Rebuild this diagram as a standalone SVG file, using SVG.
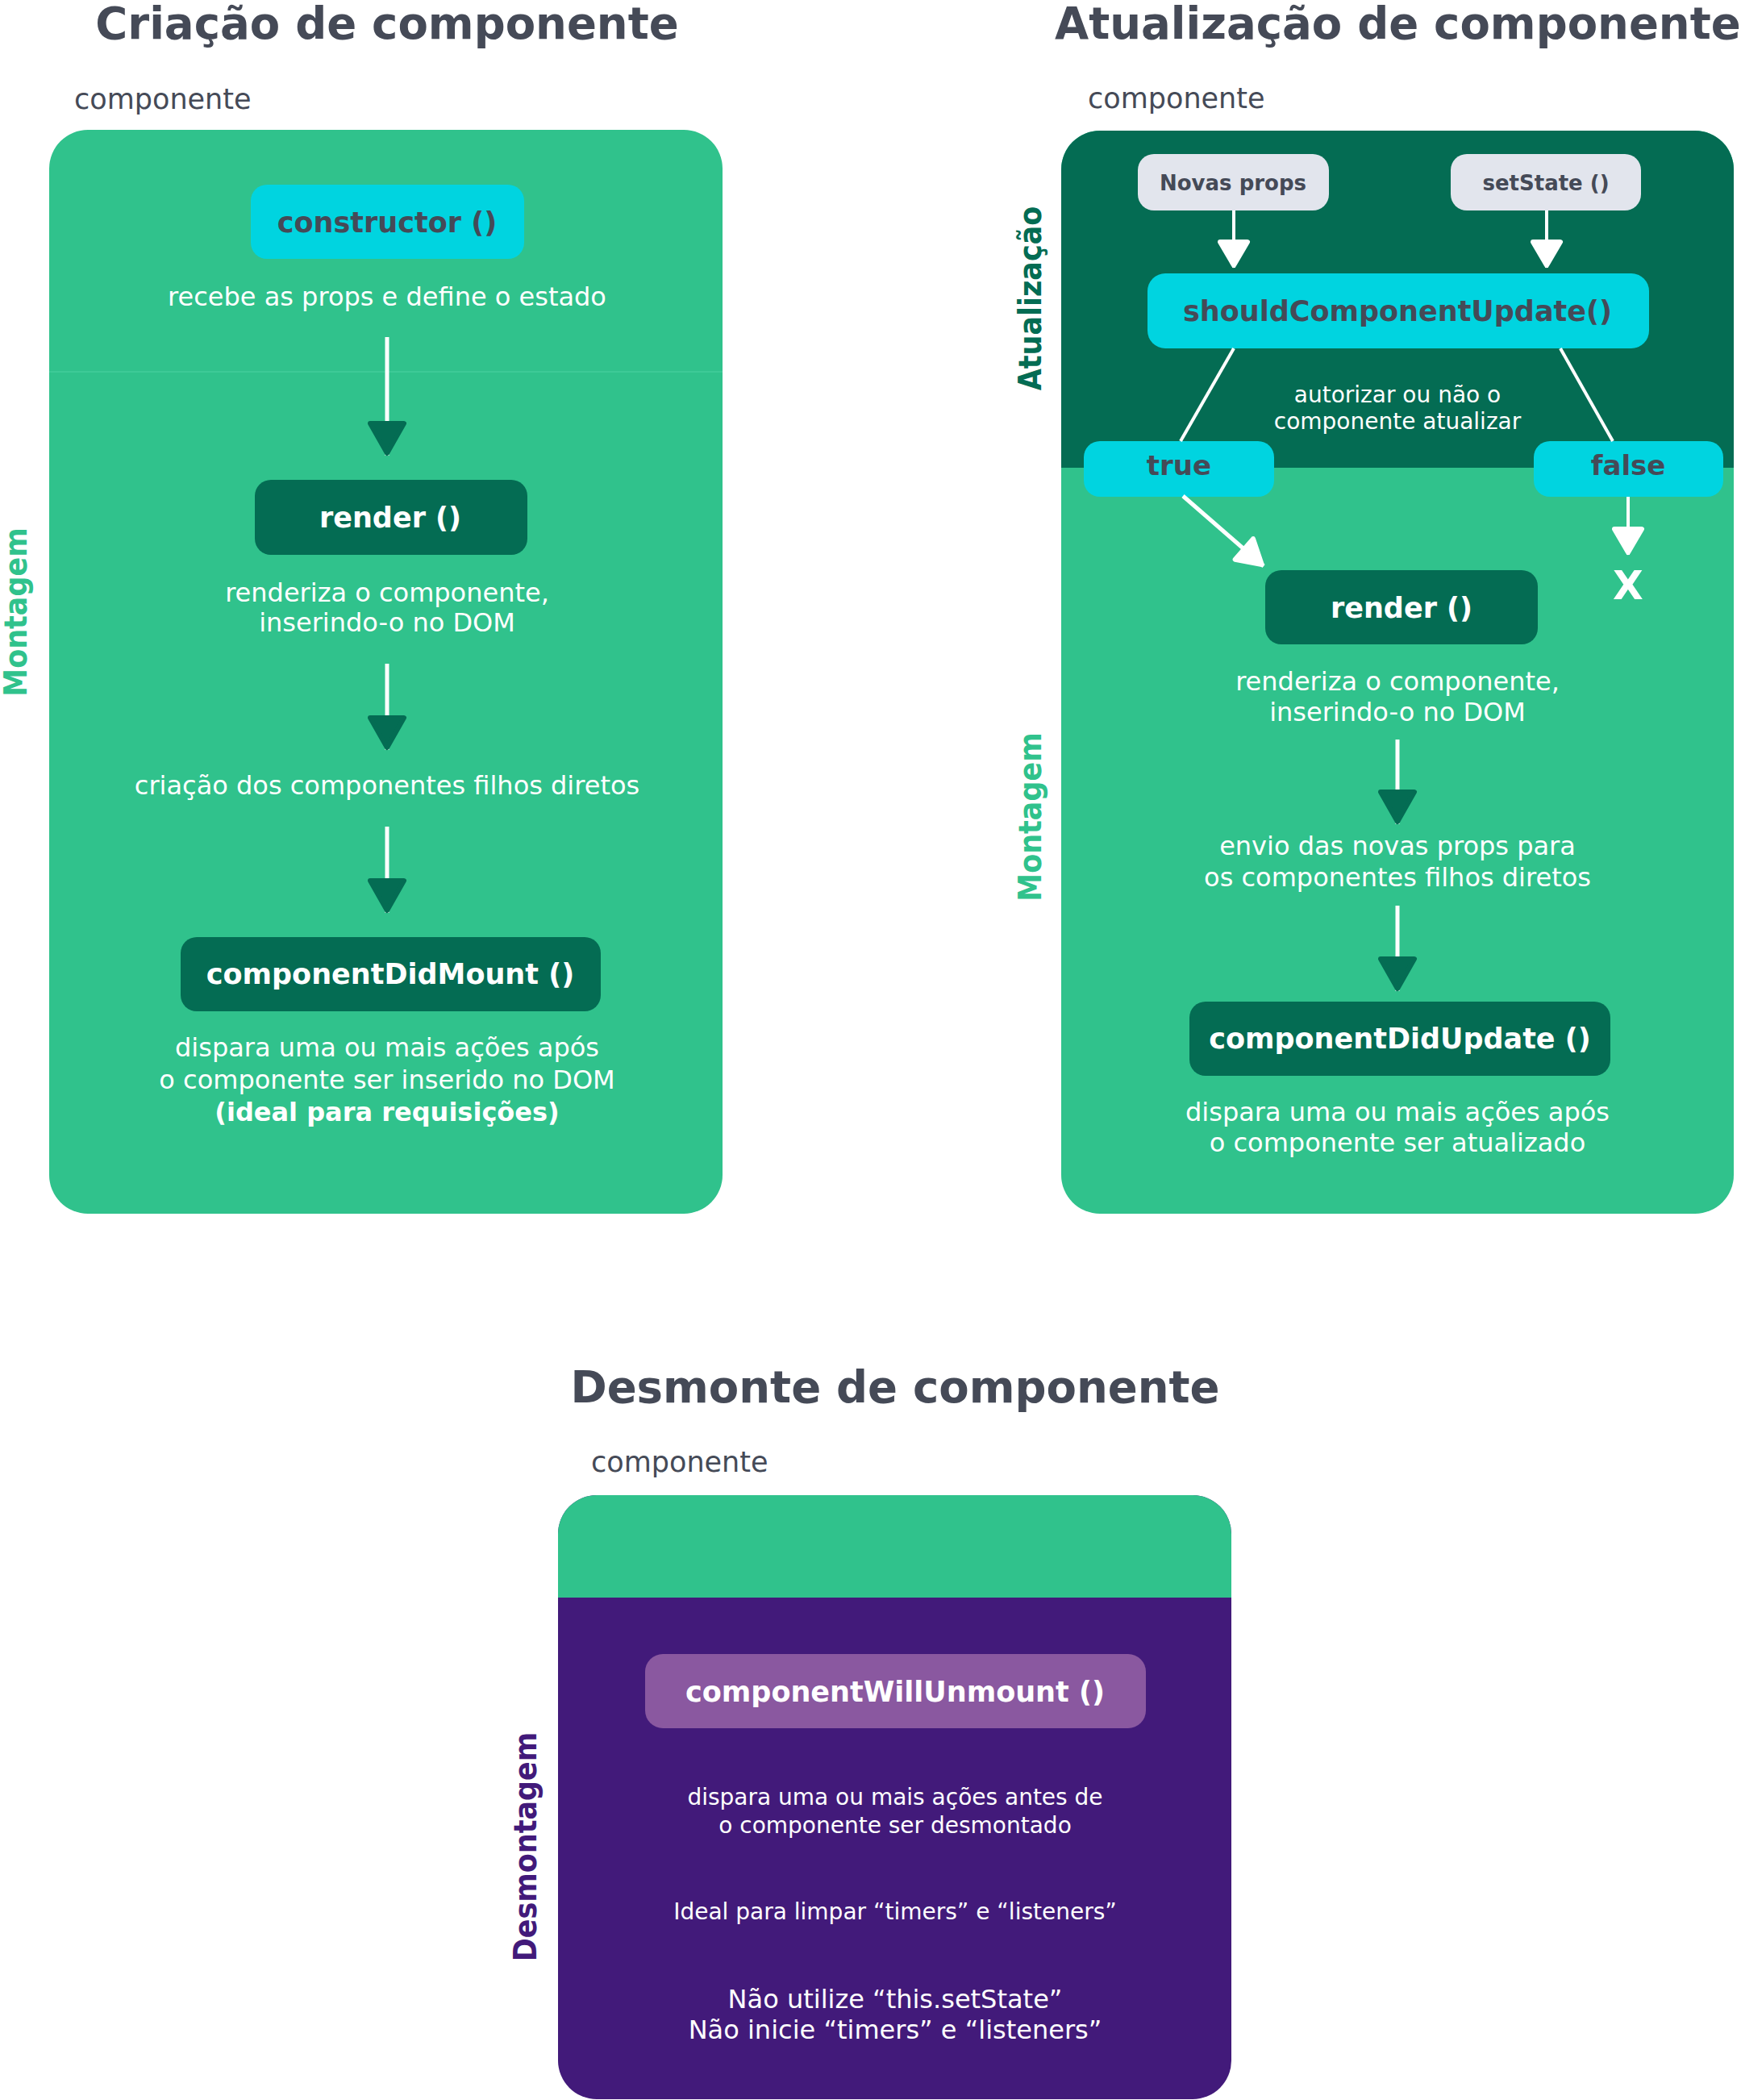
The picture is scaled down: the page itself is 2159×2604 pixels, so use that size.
<svg xmlns="http://www.w3.org/2000/svg" width="2159" height="2604" viewBox="0 0 2159 2604">
<style>
text{font-family:"DejaVu Sans","Liberation Sans",sans-serif;}
.title{font-size:54.5px;font-weight:bold;fill:#454A57;}
.comp{font-size:35px;fill:#454A57;}
.body{font-size:32px;fill:#FFFFFF;text-anchor:middle;}
.small{font-size:28px;fill:#FFFFFF;text-anchor:middle;}
.fn{font-size:35px;font-weight:bold;text-anchor:middle;}
.fnw{fill:#FFFFFF;}
.fnd{fill:#454A57;}
.vlab{font-size:35px;font-weight:bold;text-anchor:middle;}
.line{stroke:#FFFFFF;stroke-width:5;fill:none;}
.thin{stroke:#FFFFFF;stroke-width:4;fill:none;}
.dark{fill:#046C53;}
.cyan{fill:#00D4E0;}
.lg{fill:#30C28C;}
</style>
<defs>
<marker id="hd" viewBox="-50 -30 60 60" markerWidth="60" markerHeight="60" refX="0" refY="0" orient="auto" markerUnits="userSpaceOnUse">
<path d="M-3,0 L-40,-21 L-40,21 Z" fill="#046C53" stroke="#046C53" stroke-width="6" stroke-linejoin="round"/>
</marker>
<marker id="hw" viewBox="-50 -30 60 60" markerWidth="60" markerHeight="60" refX="0" refY="0" orient="auto" markerUnits="userSpaceOnUse">
<path d="M-3,0 L-32,-17 L-32,17 Z" fill="#FFFFFF" stroke="#FFFFFF" stroke-width="6" stroke-linejoin="round"/>
</marker>
</defs>
<rect width="2159" height="2604" fill="#FFFFFF"/>

<!-- Panel 1: Criação -->
<g id="panel-criacao">
<text class="title" x="480" y="48" text-anchor="middle">Criação de componente</text>
<text class="comp" x="92" y="135">componente</text>
<rect class="lg" x="61" y="161" width="835" height="1344" rx="48" ry="48"/>
<line x1="61" y1="461" x2="896" y2="461" stroke="#3DCA97" stroke-width="2"/>
<text class="vlab" fill="#30C28C" transform="translate(33,759) rotate(-90) scale(1,1.1)">Montagem</text>
</g>
<g id="constructor">
<rect class="cyan" x="311" y="229" width="339" height="92" rx="20" ry="20"/>
<text class="fn fnd" x="480" y="288">constructor ()</text>
<text class="body" x="480" y="379">recebe as props e define o estado</text>
</g>
<g id="render-1">
<rect class="dark" x="316" y="595" width="338" height="93" rx="20" ry="20"/>
<text class="fn fnw" x="484" y="654">render ()</text>
<text class="body" x="480" y="746">renderiza o componente,</text>
<text class="body" x="480" y="783">inserindo-o no DOM</text>
</g>
<g id="filhos-1">
<text class="body" x="480" y="985">criação dos componentes filhos diretos</text>
</g>
<g id="componentDidMount">
<rect class="dark" x="224" y="1162" width="521" height="92" rx="20" ry="20"/>
<text class="fn fnw" x="484" y="1220">componentDidMount ()</text>
<text class="body" x="480" y="1310">dispara uma ou mais ações após</text>
<text class="body" x="480" y="1350">o componente ser inserido no DOM</text>
<text class="body" x="480" y="1390" font-weight="bold">(ideal para requisições)</text>
</g>

<!-- Panel 2: Atualização -->
<g id="panel-atualizacao">
<text class="title" x="1308" y="48">Atualização de componente</text>
<text class="comp" x="1349" y="134">componente</text>
<rect class="lg" x="1316" y="162" width="834" height="1343" rx="48" ry="48"/>
<path class="dark" d="M1316,580 V210 A48,48 0 0 1 1364,162 H2102 A48,48 0 0 1 2150,210 V580 Z"/>
<text class="vlab" fill="#046C53" transform="translate(1291,370) rotate(-90) scale(1,1.1)">Atualização</text>
<text class="vlab" fill="#30C28C" transform="translate(1291,1013) rotate(-90) scale(1,1.1)">Montagem</text>
</g>
<g id="novas-props">
<rect x="1411" y="191" width="237" height="70" rx="20" ry="20" fill="#E2E5ED"/>
<text class="fn fnd" x="1529" y="236" style="font-size:26px">Novas props</text>
</g>
<g id="setstate">
<rect x="1799" y="191" width="236" height="70" rx="20" ry="20" fill="#E2E5ED"/>
<text class="fn fnd" x="1917" y="236" style="font-size:26px">setState ()</text>
</g>
<g id="shouldComponentUpdate">
<rect class="cyan" x="1423" y="339" width="622" height="93" rx="22" ry="22"/>
<text class="fn fnd" x="1733" y="398">shouldComponentUpdate()</text>
<text class="small" x="1733" y="499">autorizar ou não o</text>
<text class="small" x="1733" y="532">componente atualizar</text>
</g>
<g id="true">
<rect class="cyan" x="1344" y="547" width="236" height="69" rx="20" ry="20"/>
<text class="fn fnd" x="1462" y="589" style="font-size:34px">true</text>
</g>
<g id="false">
<rect class="cyan" x="1902" y="547" width="235" height="69" rx="20" ry="20"/>
<text class="fn fnd" x="2019" y="589" style="font-size:34px">false</text>
</g>
<g id="x-mark">
<text class="fn fnw" x="2019" y="743" style="font-size:49px">X</text>
</g>
<g id="render-2">
<rect class="dark" x="1569" y="707" width="338" height="92" rx="20" ry="20"/>
<text class="fn fnw" x="1738" y="766">render ()</text>
<text class="body" x="1733" y="856">renderiza o componente,</text>
<text class="body" x="1733" y="894">inserindo-o no DOM</text>
</g>
<g id="envio-props">
<text class="body" x="1733" y="1060">envio das novas props para</text>
<text class="body" x="1733" y="1099">os componentes filhos diretos</text>
</g>
<g id="componentDidUpdate">
<rect class="dark" x="1475" y="1242" width="522" height="92" rx="20" ry="20"/>
<text class="fn fnw" x="1736" y="1300">componentDidUpdate ()</text>
<text class="body" x="1733" y="1390">dispara uma ou mais ações após</text>
<text class="body" x="1733" y="1428">o componente ser atualizado</text>
</g>

<!-- Panel 3: Desmonte -->
<g id="panel-desmonte">
<text class="title" x="1110" y="1739" text-anchor="middle">Desmonte de componente</text>
<text class="comp" x="733" y="1825">componente</text>
<rect x="692" y="1854" width="835" height="749" rx="48" ry="48" fill="#421A7A"/>
<path class="lg" d="M692,1981 V1902 A48,48 0 0 1 740,1854 H1479 A48,48 0 0 1 1527,1902 V1981 Z"/>
<text class="vlab" fill="#421A7A" transform="translate(665,2290) rotate(-90) scale(1,1.1)">Desmontagem</text>
</g>
<g id="componentWillUnmount">
<rect x="800" y="2051" width="621" height="92" rx="22" ry="22" fill="#8A58A0"/>
<text class="fn fnw" x="1110" y="2110">componentWillUnmount ()</text>
<text class="small" x="1110" y="2238">dispara uma ou mais ações antes de</text>
<text class="small" x="1110" y="2273">o componente ser desmontado</text>
<text class="small" x="1110" y="2380">Ideal para limpar “timers” e “listeners”</text>
<text class="body" x="1110" y="2490">Não utilize “this.setState”</text>
<text class="body" x="1110" y="2528">Não inicie “timers” e “listeners”</text>
</g>

<!-- Connectors -->
<g id="connectors">
<path class="line" d="M480,418 V565" marker-end="url(#hd)"/>
<path class="line" d="M480,823 V930" marker-end="url(#hd)"/>
<path class="line" d="M480,1025 V1132" marker-end="url(#hd)"/>
<path class="thin" d="M1530,261 V332" marker-end="url(#hw)"/>
<path class="thin" d="M1918,261 V332" marker-end="url(#hw)"/>
<path class="thin" d="M1530,432 L1464,547"/>
<path class="thin" d="M1935,432 L2000,547"/>
<path class="line" d="M1467,615 L1567,702" marker-end="url(#hw)"/>
<path class="thin" d="M2019,616 V688" marker-end="url(#hw)"/>
<path class="line" d="M1733,917 V1022" marker-end="url(#hd)"/>
<path class="line" d="M1733,1123 V1229" marker-end="url(#hd)"/>
</g>
</svg>
